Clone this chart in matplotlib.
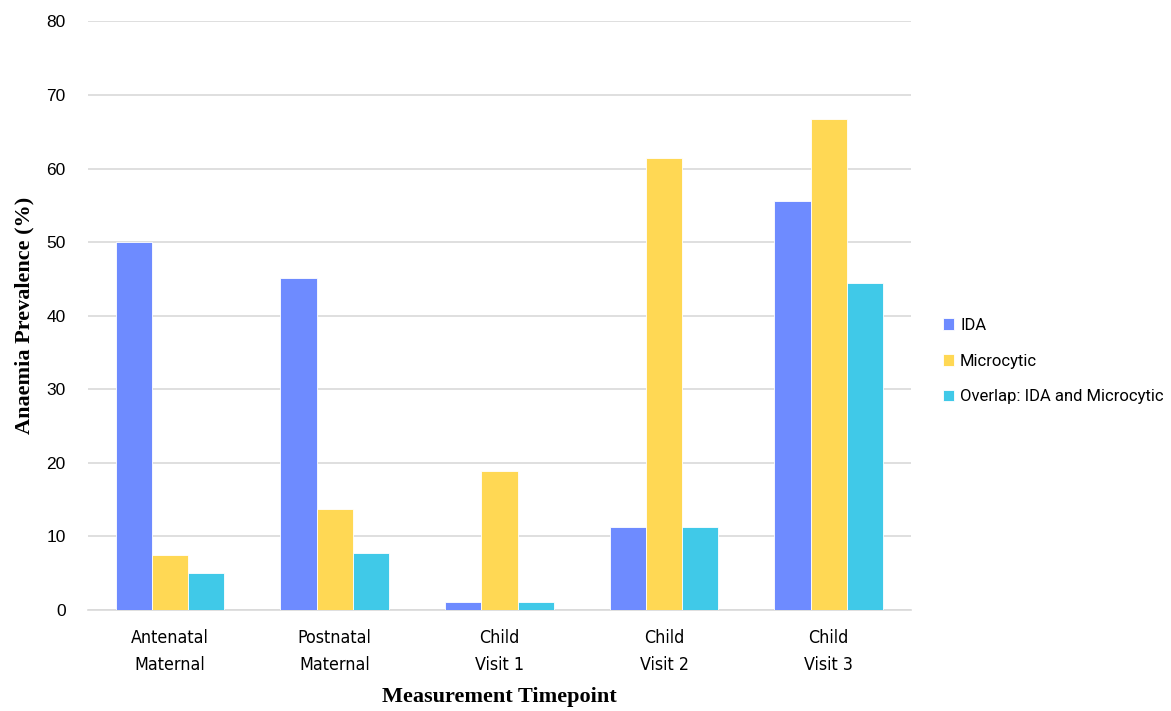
import numpy as np
import matplotlib.pyplot as plt

categories = ['Antenatal\nMaternal', 'Postnatal\nMaternal', 'Child\nVisit 1', 'Child\nVisit 2', 'Child\nVisit 3']
ida = [50.0, 45.1, 1.1, 11.3, 55.6]
microcytic = [7.5, 13.7, 18.9, 61.4, 66.7]
overlap = [5.0, 7.8, 1.1, 11.3, 44.4]
series_names = ['IDA', 'Microcytic', 'Overlap: IDA and Microcytic']
colors = ['#6E8BFF', '#FFD854', '#40C9E8']

fig = plt.figure(figsize=(11.71, 7.11), dpi=100)
ax = fig.add_axes([0.075, 0.142, 0.703, 0.828])

x = np.arange(len(categories))
w = 0.22
for i, (vals, name, c) in enumerate(zip([ida, microcytic, overlap], series_names, colors)):
    ax.bar(x + (i - 1) * w, vals, w, color=c, edgecolor='white', linewidth=0.6, label=name, zorder=3)

ax.set_xlim(-0.5, len(categories) - 0.5)
ax.set_ylim(0, 80)
ax.set_yticks(range(0, 81, 10))
ax.yaxis.grid(True, color='#d9d9d9', linewidth=1.2, zorder=0)
for s in ['top', 'right', 'left']:
    ax.spines[s].set_visible(False)
ax.spines['bottom'].set_color('#d9d9d9')
ax.spines['bottom'].set_linewidth(1.2)
ax.tick_params(axis='both', length=0)
ax.tick_params(axis='y', pad=16, labelsize=12.5)
ax.set_xticks(x)
ax.set_xticklabels(categories, fontsize=12.8, family='DejaVu Sans', fontstretch='condensed', linespacing=1.6)
ax.tick_params(axis='x', pad=14)
for t in ax.get_yticklabels():
    t.set_family('Liberation Sans')

ax.set_ylabel('Anaemia Prevalence (%)', family='Liberation Serif', fontweight='bold', fontsize=16)
ax.yaxis.set_label_coords(-0.065, 0.5)
ax.set_xlabel('Measurement Timepoint', family='Liberation Serif', fontweight='bold', fontsize=16)
ax.xaxis.set_label_coords(0.5, -0.131)

ax.legend(loc='center left', bbox_to_anchor=(1.02, 0.423), frameon=False,
          handlelength=0.7, handleheight=0.7, handletextpad=0.35, labelspacing=1.25,
          prop={'family': 'Roboto', 'size': 12})

fig.savefig('out.png', dpi=100)
